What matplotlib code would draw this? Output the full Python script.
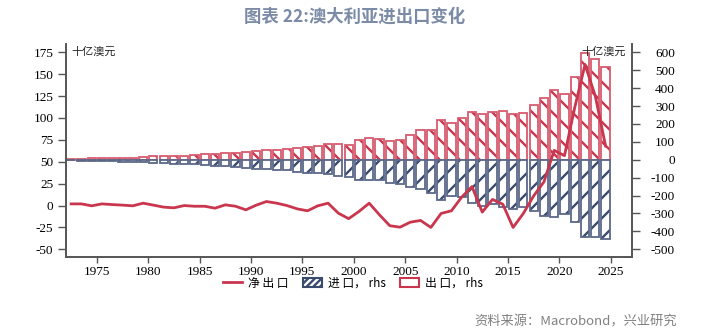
import matplotlib
matplotlib.use("Agg")
import matplotlib.pyplot as plt
from matplotlib.patches import Patch
from matplotlib.lines import Line2D
from matplotlib.backend_bases import GraphicsContextBase
import numpy as np

# slightly sparser hatch spacing than the default patterns
_orig_hatch_path = GraphicsContextBase.get_hatch_path
def _hatch_path(self, density=6.0):
    return _orig_hatch_path(self, density=10.0)
GraphicsContextBase.get_hatch_path = _hatch_path

plt.rcParams['font.family'] = ['Noto Sans CJK SC', 'DejaVu Sans']
plt.rcParams['hatch.linewidth'] = 1.7

years = list(range(1972, 2025))
exports = [5.6, 6, 7.4, 8, 9, 10, 11, 14, 19, 19, 20, 21, 25, 31, 34, 38, 38, 44,
           46.5, 52, 54, 60, 65, 71, 78, 87, 87, 84, 108, 121, 115, 106, 113, 140,
           164, 167, 221, 203, 232, 264, 255, 264, 270, 257, 260, 303, 347, 390,
           365, 461, 595, 561, 519]
imports = [-4, -4.5, -7, -7, -9, -11, -12, -14, -17, -20, -22, -21, -25, -30, -34,
           -37, -40, -47, -50, -50, -56, -58, -66, -72, -76, -80, -93, -97, -115,
           -112, -115, -130, -135, -150, -165, -186, -227, -203, -210, -240, -260,
           -245, -262, -273, -266, -288, -316, -318, -305, -345, -431, -430, -445]
net = [1.9, 1.9, -0.3, 1.9, 1.1, 0.5, -0.3, 2.7, 0.5, -1.8, -2.6, 0, -0.8, -0.8,
       -3, 0.8, -0.8, -4.9, 0.4, 4.6, 2.7, 0, -3.8, -6, -0.3, 2.7, -8.7, -15,
       -6.8, 2.7, -10.6, -23, -24.7, -19, -17, -25, -9, -6, 9.6, 21.7, -7.5, 7,
       1.5, -25, -9, 11, 27, 63, 57, 112, 161, 125, 68]
xticks = [1975, 1980, 1985, 1990, 1995, 2000, 2005, 2010, 2015, 2020, 2025]
left_ticks = [-50, -25, 0, 25, 50, 75, 100, 125, 150, 175]
right_ticks = [-500, -400, -300, -200, -100, 0, 100, 200, 300, 400, 500, 600]

RED = '#c9364e'
RED_EDGE = '#d65c70'
BLUE = '#3b4b6e'
BLUE_EDGE = '#5a6888'

xpos = np.array(years) + 0.5

fig = plt.figure(figsize=(7.18, 3.35), dpi=100)
ax = fig.add_axes([66/718, (335-257.3)/335, (632-66)/718, 213.3/335])
ax2 = ax.twinx()

# bars on right axis
ax2.bar(xpos, exports, width=0.8, color='white', edgecolor=RED, hatch='\\',
        linewidth=0)
ax2.bar(xpos, exports, width=0.8, fill=False, edgecolor=RED_EDGE, linewidth=1.3)
ax2.bar(xpos, imports, width=0.8, color='white', edgecolor=BLUE, hatch='/',
        linewidth=0)
ax2.bar(xpos, imports, width=0.8, fill=False, edgecolor=BLUE_EDGE, linewidth=1.3)

# line on left axis
ax.plot(xpos, net, color=RED, linewidth=2.0, zorder=5)
ax.set_zorder(ax2.get_zorder() + 1)
ax.patch.set_visible(False)

ax.set_xlim(1972, 2027.07)
ax.set_ylim(-59.1, 184.5)
ax2.set_ylim(-544.7, 646.3)

serif = 'Liberation Serif'
ax.set_xticks(xticks)
ax.set_xticklabels([str(t) for t in xticks], fontfamily=serif, fontsize=9.5)
ax.set_yticks(left_ticks)
ax.set_yticklabels([str(t) for t in left_ticks], fontfamily=serif, fontsize=9.5)
ax2.set_yticks(right_ticks)
ax2.set_yticklabels([str(t) for t in right_ticks], fontfamily=serif, fontsize=9.5,
                    ha='right')
ax.tick_params(axis='x', direction='out', length=4, width=1, color='#555555', pad=2)
ax.tick_params(axis='y', direction='out', length=6, width=1, color='#555555', pad=3)
ax2.tick_params(axis='y', direction='out', length=6, width=1, color='#555555', pad=25)

for a in (ax, ax2):
    a.spines['top'].set_visible(False)
    for s in ('left', 'right', 'bottom'):
        a.spines[s].set_color('#555555')
        a.spines[s].set_linewidth(1.2)

ax.text(0.01, 0.965, '十亿澳元', transform=ax.transAxes, fontsize=8,
        ha='left', va='center', color='#222222')
ax.text(0.99, 0.965, '十亿澳元', transform=ax.transAxes, fontsize=8,
        ha='right', va='center', color='#222222')

handles = [Line2D([0], [0], color=RED, linewidth=2),
           Patch(facecolor='white', edgecolor=BLUE, hatch='///', linewidth=1.5),
           Patch(facecolor='white', edgecolor=RED, linewidth=1.5)]
labels = ['净 出 口', '进 口， rhs', '出 口， rhs']
fig.legend(handles, labels, loc='center', bbox_to_anchor=(353/718, (335-283)/335),
           ncol=3, frameon=False, fontsize=8.5, handlelength=1.6,
           handleheight=0.9, handletextpad=0.5, columnspacing=1.2)

fig.text(355/718, 1 - 17/335, '图表 22:澳大利亚进出口变化', ha='center', va='center',
         fontsize=12.5, fontweight='bold', color='#7b8ba6')
fig.text(677/718, 1 - 322/335, '资料来源：Macrobond，兴业研究', ha='right',
         va='center', fontsize=9.5, color='#808080')

fig.savefig('out.png', dpi=100)
